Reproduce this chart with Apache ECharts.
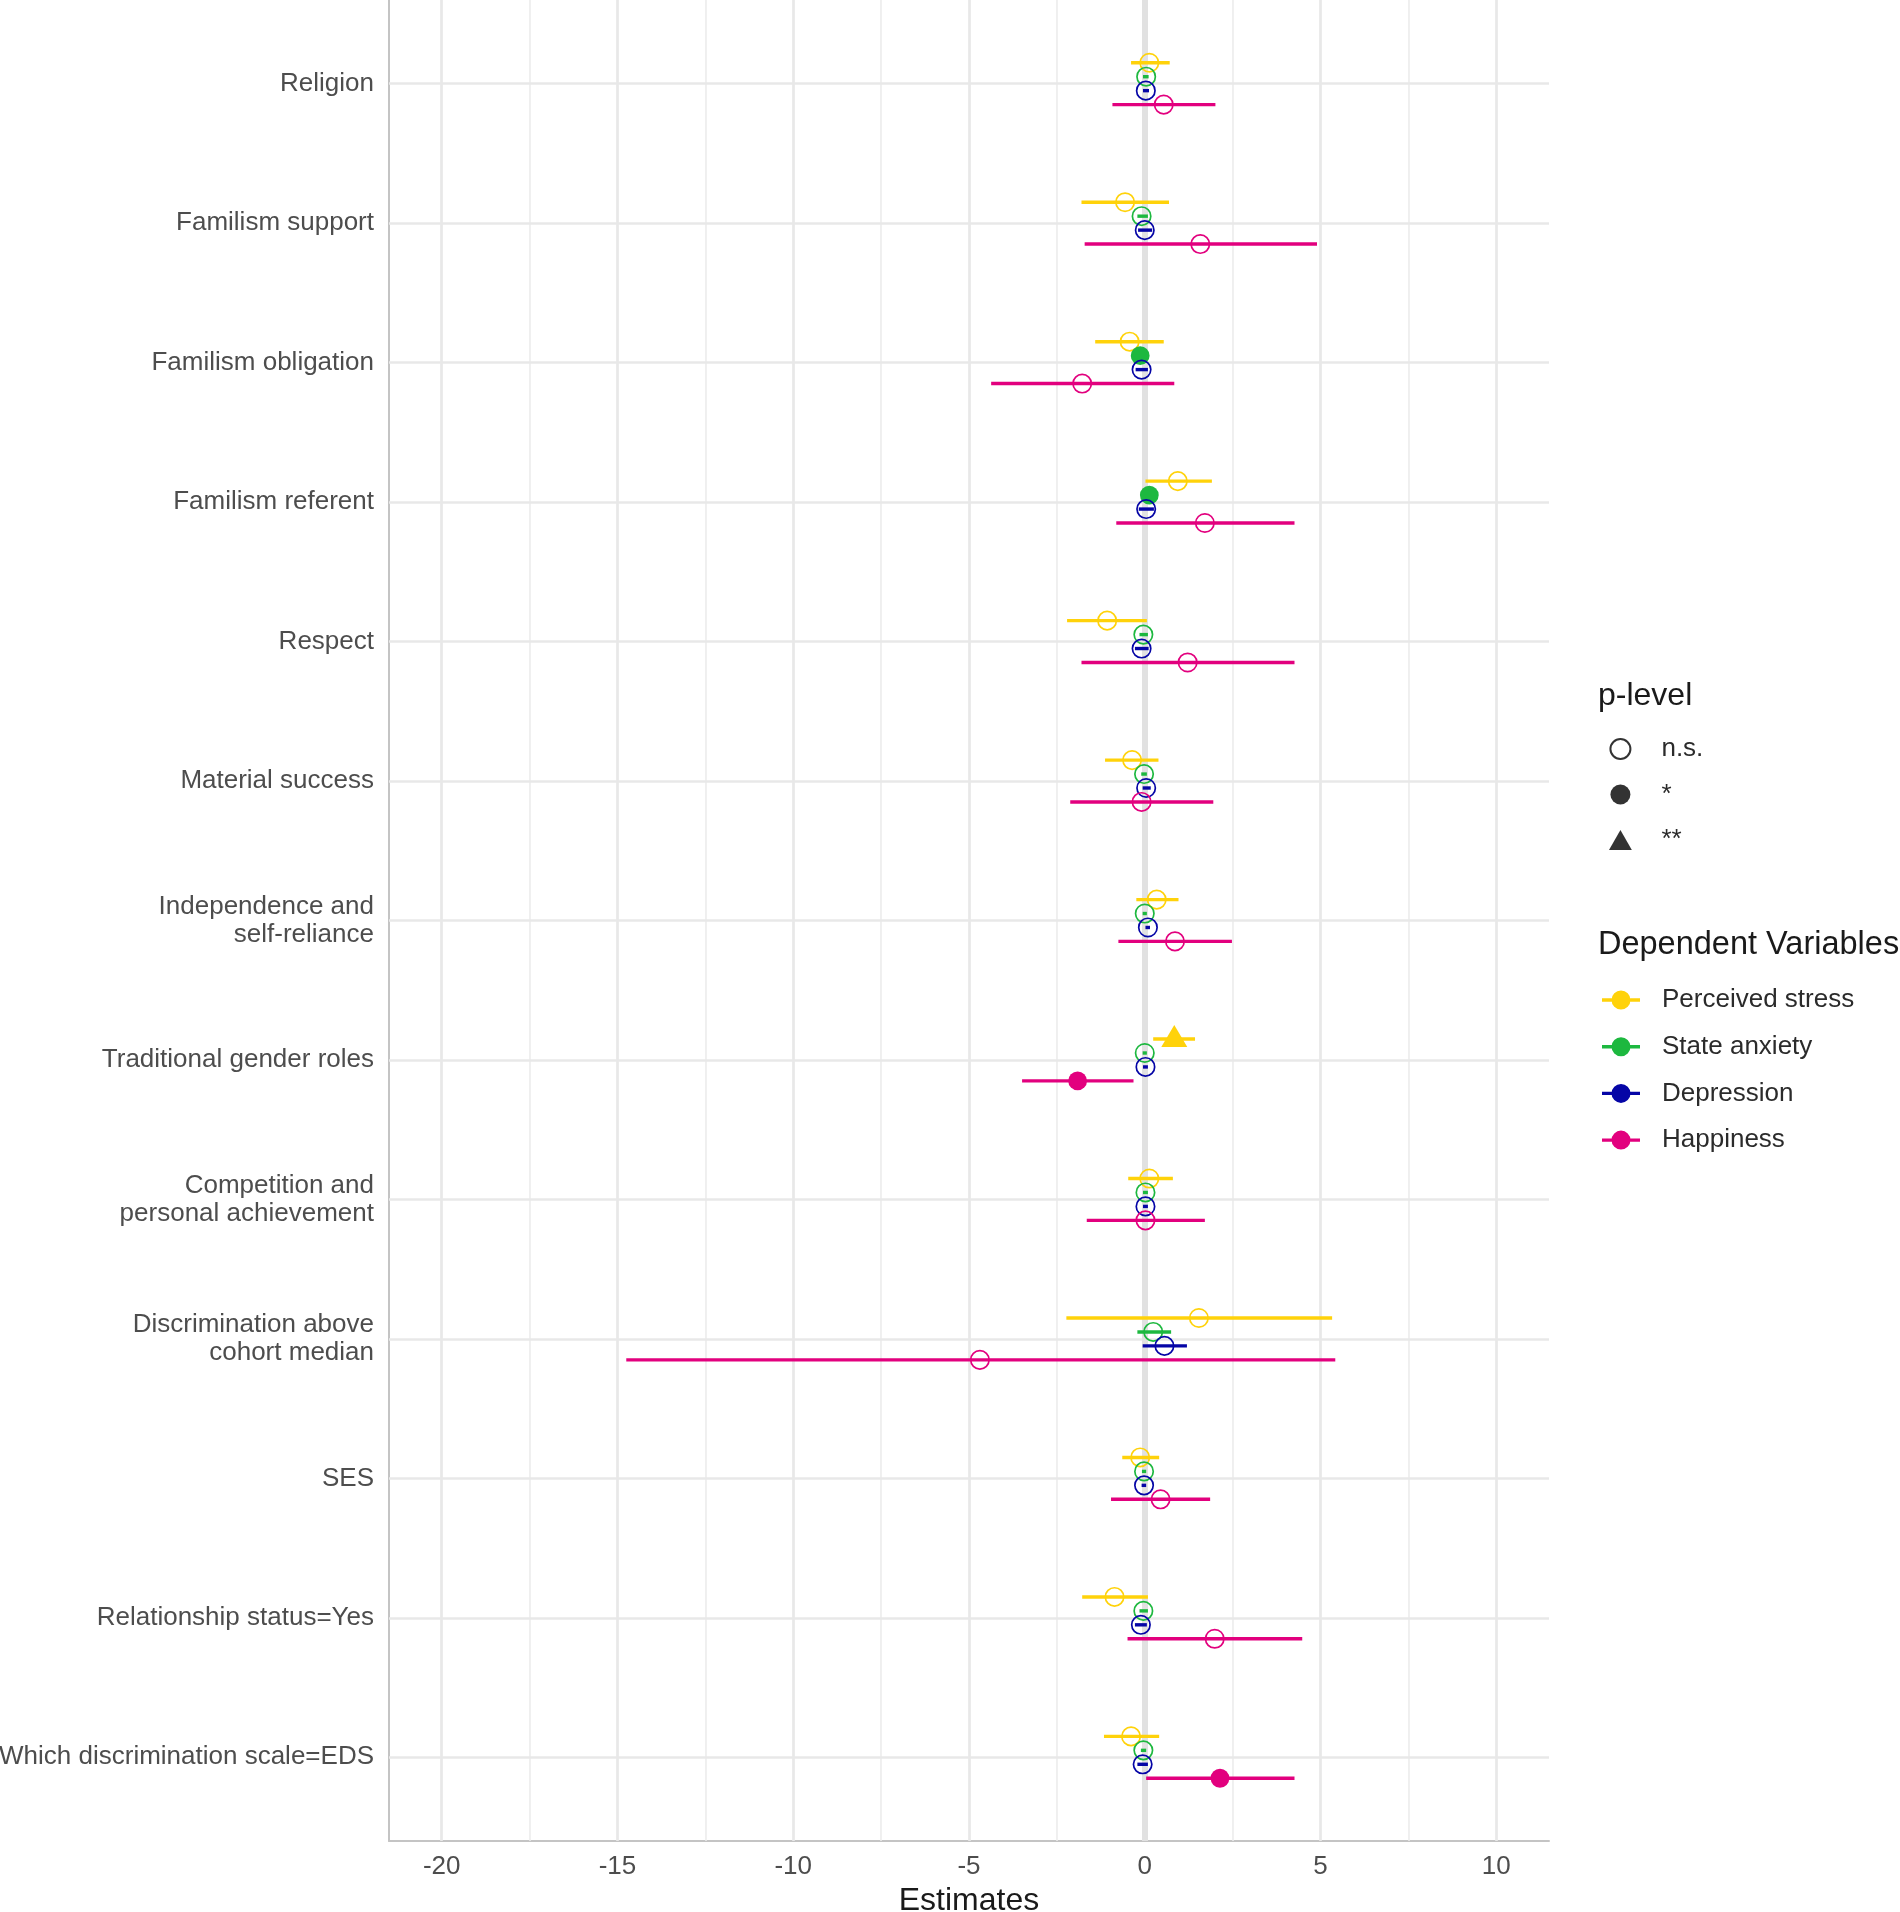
<!DOCTYPE html>
<html>
<head>
<meta charset="utf-8">
<script src="https://cdn.jsdelivr.net/npm/echarts@6/dist/echarts.min.js"></script>
<style>
html,body{margin:0;padding:0;background:#fff;}
#chart{width:1900px;height:1912px;}
</style>
</head>
<body>
<div id="chart"></div>
<script>
// ---------- DATA ----------
const categories = [
  "Religion",
  "Familism support",
  "Familism obligation",
  "Familism referent",
  "Respect",
  "Material success",
  "Independence and\nself-reliance",
  "Traditional gender roles",
  "Competition and\npersonal achievement",
  "Discrimination above\ncohort median",
  "SES",
  "Relationship status=Yes",
  "Which discrimination scale=EDS"
];
const categoryIndex = [0,1,2,3,4,5,6,7,8,9,10,11,12];

const dvNames = ["Perceived stress", "State anxiety", "Depression", "Happiness"];
const pLevels = ["n.s.", "*", "**"];   // sig code 0, 1, 2

// Perceived stress
const stressEst = [0.13, -0.56, -0.43, 0.94, -1.07, -0.36, 0.34, 0.84, 0.13, 1.54, -0.13, -0.86, -0.39];
const stressLo  = [-0.39, -1.80, -1.41, 0.02, -2.21, -1.13, -0.24, 0.24, -0.47, -2.23, -0.64, -1.78, -1.16];
const stressHi  = [0.71, 0.69, 0.54, 1.91, 0.06, 0.39, 0.96, 1.43, 0.80, 5.33, 0.41, 0.09, 0.41];
const stressSig = [0, 0, 0, 0, 0, 0, 0, 2, 0, 0, 0, 0, 0];

// State anxiety
const anxietyEst = [0.04, -0.09, -0.13, 0.13, -0.04, -0.02, 0.00, 0.00, 0.02, 0.24, -0.02, -0.04, -0.04];
const anxietyLo  = [-0.05, -0.21, -0.25, 0.02, -0.15, -0.10, -0.06, -0.06, -0.05, -0.21, -0.08, -0.15, -0.11];
const anxietyHi  = [0.11, 0.09, -0.01, 0.24, 0.09, 0.06, 0.06, 0.06, 0.09, 0.75, 0.04, 0.09, 0.04];
const anxietySig = [0, 0, 1, 1, 0, 0, 0, 0, 0, 0, 0, 0, 0];

// Depression
const depressionEst = [0.03, 0.00, -0.09, 0.04, -0.09, 0.04, 0.09, 0.02, 0.02, 0.56, -0.02, -0.11, -0.06];
const depressionLo  = [-0.05, -0.19, -0.26, -0.17, -0.28, -0.06, 0.02, -0.05, -0.05, -0.06, -0.09, -0.28, -0.21];
const depressionHi  = [0.12, 0.21, 0.09, 0.26, 0.11, 0.17, 0.15, 0.09, 0.09, 1.20, 0.04, 0.06, 0.09];
const depressionSig = [0, 0, 0, 0, 0, 0, 0, 0, 0, 0, 0, 0, 0];

// Happiness
const happinessEst = [0.54, 1.58, -1.78, 1.71, 1.22, -0.09, 0.86, -1.91, 0.02, -4.69, 0.45, 1.99, 2.14];
const happinessLo  = [-0.92, -1.71, -4.37, -0.81, -1.80, -2.12, -0.75, -3.49, -1.65, -14.75, -0.96, -0.49, 0.04];
const happinessHi  = [2.01, 4.90, 0.84, 4.26, 4.26, 1.95, 2.48, -0.32, 1.71, 5.42, 1.86, 4.48, 4.26];
const happinessSig = [0, 0, 0, 0, 0, 0, 0, 1, 0, 0, 0, 0, 1];

// Axis ticks
const xMajorTicks = [-20, -15, -10, -5, 0, 5, 10];
const xMinorTicks = [-17.5, -12.5, -7.5, -2.5, 2.5, 7.5];
const xRefLine = 0;

// ---------- STYLE / LAYOUT ----------
const FONT = "'Liberation Sans', Arial, Helvetica, sans-serif";
const dvColors = ["#FFD20A", "#1DB83F", "#0505A6", "#E2007E"];
const dodge = [-0.15, -0.05, 0.05, 0.15];

function buildData(est, lo, hi, sig) {
  return categoryIndex.map(function (i) { return [est[i], lo[i], hi[i], i, sig[i]]; });
}
const dvData = [
  buildData(stressEst, stressLo, stressHi, stressSig),
  buildData(anxietyEst, anxietyLo, anxietyHi, anxietySig),
  buildData(depressionEst, depressionLo, depressionHi, depressionSig),
  buildData(happinessEst, happinessLo, happinessHi, happinessSig)
];

function makeRender(offset, color) {
  return function (params, api) {
    const y = api.value(3) + offset;
    const pe = api.coord([api.value(0), y]);
    const pl = api.coord([api.value(1), y]);
    const ph = api.coord([api.value(2), y]);
    const sig = api.value(4);
    const children = [{
      type: 'line',
      shape: { x1: pl[0], y1: pl[1], x2: ph[0], y2: ph[1] },
      style: { stroke: color, lineWidth: 3.4 }
    }];
    if (sig === 0) {
      children.push({ type: 'circle', shape: { cx: pe[0], cy: pe[1], r: 9.2 },
        style: { fill: 'transparent', stroke: color, lineWidth: 1.7 } });
    } else if (sig === 1) {
      children.push({ type: 'circle', shape: { cx: pe[0], cy: pe[1], r: 9.4 },
        style: { fill: color } });
    } else {
      children.push({ type: 'polygon',
        shape: { points: [[pe[0], pe[1] - 14], [pe[0] - 13, pe[1] + 8], [pe[0] + 13, pe[1] + 8]] },
        style: { fill: color } });
    }
    return { type: 'group', children: children };
  };
}

const gridLines = [];
xMinorTicks.forEach(function (v) { gridLines.push({ xAxis: v, lineStyle: { color: '#ececec', width: 1.6, type: 'solid' } }); });
xMajorTicks.forEach(function (v) { gridLines.push({ xAxis: v, lineStyle: { color: '#e8e8e8', width: 2.7, type: 'solid' } }); });
categoryIndex.forEach(function (i) { gridLines.push({ yAxis: i, lineStyle: { color: '#e8e8e8', width: 2.7, type: 'solid' } }); });
gridLines.push({ xAxis: xRefLine, lineStyle: { color: '#e1e1e1', width: 6, type: 'solid' } });

const series = [{
  type: 'scatter', name: '_grid', data: [], silent: true, z: 0,
  markLine: {
    silent: true, z: 1, animation: false,
    symbol: ['none', 'none'],
    label: { show: false },
    lineStyle: { type: 'solid' },
    emphasis: { disabled: true },
    data: gridLines
  }
}];
pLevels.forEach(function (p) {
  series.push({ type: 'scatter', name: p, data: [], itemStyle: { color: '#000' } });
});
dvNames.forEach(function (name, k) {
  series.push({
    type: 'custom', name: name, z: 3,
    itemStyle: { color: dvColors[k] },
    renderItem: makeRender(dodge[k], dvColors[k]),
    encode: { x: [0, 1, 2], y: 3 },
    data: dvData[k]
  });
});

const dvIcon = 'path://M0,8.2H10.3V11.8H0Z M29.7,8.2H40V11.8H29.7Z M30,10A10,10,0,1,1,10,10A10,10,0,1,1,30,10Z';

const option = {
  animation: false,
  backgroundColor: '#ffffff',
  textStyle: { fontFamily: FONT },
  grid: { left: 389, right: 351, top: 0, bottom: 71, containLabel: false, outerBoundsMode: 'none' },
  xAxis: {
    type: 'value', min: -21.5, max: 11.5,
    axisLine: { show: true, onZero: false, lineStyle: { color: '#c4c4c4', width: 2 } },
    axisTick: { show: false },
    splitLine: { show: false },
    axisLabel: { customValues: xMajorTicks, fontSize: 26, color: '#4d4d4d', margin: 13, fontFamily: FONT },
    name: 'Estimates', nameLocation: 'middle', nameGap: 42,
    nameTextStyle: { fontSize: 32, color: '#1a1a1a', fontFamily: FONT }
  },
  yAxis: {
    type: 'value', inverse: true, min: -0.6, max: 12.6,
    axisLine: { show: true, onZero: false, lineStyle: { color: '#c4c4c4', width: 2 } },
    axisTick: { show: false },
    splitLine: { show: false },
    axisLabel: {
      customValues: categoryIndex, fontSize: 26, color: '#4d4d4d', margin: 15, lineHeight: 28,
      fontFamily: FONT, align: 'right',
      formatter: function (v) { return categories[Math.round(v)]; }
    }
  },
  title: [
    { text: 'p-level', left: 1598, top: 680, padding: 0,
      textStyle: { fontSize: 32, fontWeight: 'normal', color: '#1a1a1a', fontFamily: FONT } },
    { text: 'Dependent Variables', left: 1598, top: 929, padding: 0,
      textStyle: { fontSize: 32.5, fontWeight: 'normal', color: '#1a1a1a', fontFamily: FONT } }
  ],
  legend: [
    {
      orient: 'vertical', left: 1609, top: 736, padding: 0,
      itemWidth: 38, itemHeight: 20, itemGap: 19.5, selectedMode: false,
      data: [
        { name: 'n.s.', icon: 'circle', itemStyle: { color: 'transparent', borderColor: '#000', borderWidth: 2 } },
        { name: '*', icon: 'circle', itemStyle: { color: '#000' } },
        { name: '**', icon: 'path://M12,0L24,21L0,21Z', itemStyle: { color: '#000' } }
      ],
      textStyle: { fontSize: 26, color: '#2b2b2b', lineHeight: 26, padding: [0, 0, 0, 17], fontFamily: FONT }
    },
    {
      orient: 'vertical', left: 1602, top: 987, padding: 0,
      itemWidth: 38, itemHeight: 19, itemGap: 20.7, selectedMode: false,
      data: dvNames.map(function (n) { return { name: n, icon: dvIcon }; }),
      textStyle: { fontSize: 26, color: '#2b2b2b', lineHeight: 26, padding: [0, 0, 0, 17], fontFamily: FONT }
    }
  ],
  series: series
};

const chart = echarts.init(document.getElementById('chart'), null, { renderer: 'canvas' });
chart.setOption(option);
</script>
</body>
</html>
